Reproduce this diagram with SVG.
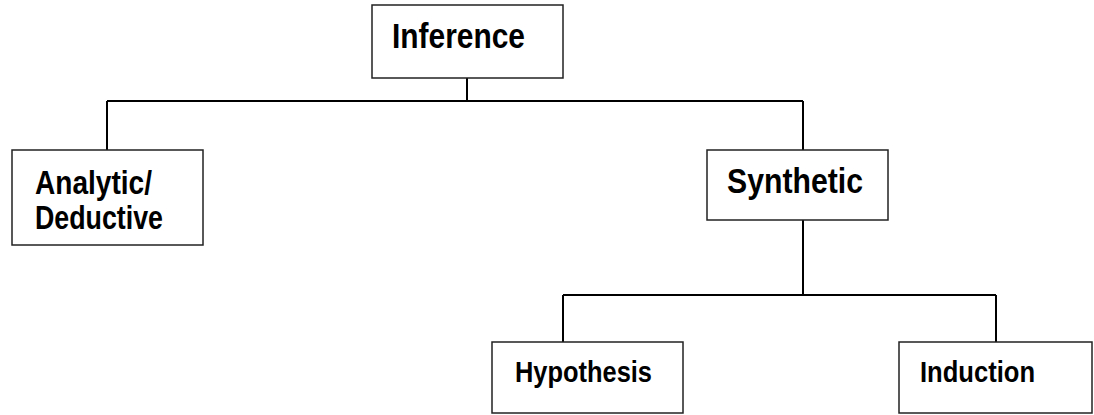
<svg xmlns="http://www.w3.org/2000/svg" width="1094" height="415" viewBox="0 0 1094 415">
<style>
.box{fill:#fff;stroke:#222;stroke-width:1.5}
.lbl{font-family:"Liberation Sans",Arial,sans-serif;font-weight:bold;fill:#000}
.conn{fill:none;stroke:#000;stroke-width:2}
</style>
<rect width="1094" height="415" fill="#fff"/>
<g id="connectors">
<path class="conn" d="M467 78 V101 M107 101 H803 M107 101 V150 M803 101 V150"/>
<path class="conn" d="M803 220 V295 M563 295 H996 M563 295 V342 M996 295 V342"/>
</g>
<g id="inference">
<rect class="box" x="372" y="5" width="191" height="73"/>
<text class="lbl" x="392" y="48" font-size="35" textLength="133" lengthAdjust="spacingAndGlyphs">Inference</text>
</g>
<g id="analytic">
<rect class="box" x="12" y="150" width="191" height="95"/>
<text class="lbl" x="35" y="194" font-size="33" textLength="117" lengthAdjust="spacingAndGlyphs">Analytic/</text>
<text class="lbl" x="35" y="229" font-size="33" textLength="128" lengthAdjust="spacingAndGlyphs">Deductive</text>
</g>
<g id="synthetic">
<rect class="box" x="707" y="150" width="181" height="70"/>
<text class="lbl" x="727" y="193" font-size="35" textLength="136" lengthAdjust="spacingAndGlyphs">Synthetic</text>
</g>
<g id="hypothesis">
<rect class="box" x="492" y="342" width="191" height="71"/>
<text class="lbl" x="515" y="382" font-size="30" textLength="137" lengthAdjust="spacingAndGlyphs">Hypothesis</text>
</g>
<g id="induction">
<rect class="box" x="899" y="342" width="193" height="71"/>
<text class="lbl" x="920" y="382" font-size="30" textLength="115" lengthAdjust="spacingAndGlyphs">Induction</text>
</g>
</svg>
